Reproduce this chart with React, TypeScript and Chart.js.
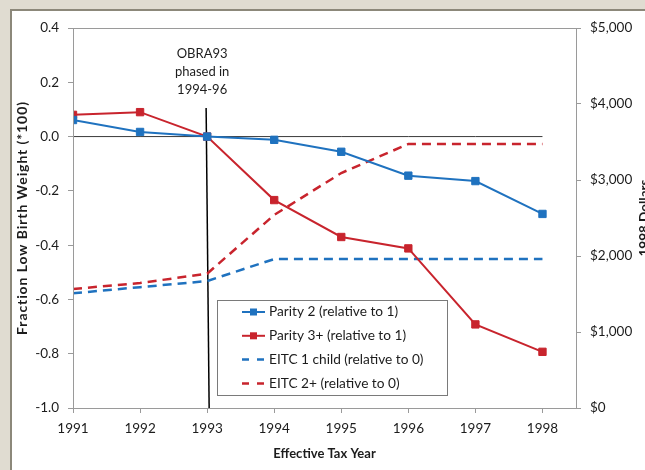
import React, { useEffect, useRef } from "react";
import { Chart, registerables } from "chart.js";

Chart.register(...registerables);

const years = [1991, 1992, 1993, 1994, 1995, 1996, 1997, 1998];
const parity2 = [0.061, 0.017, 0.0, -0.012, -0.056, -0.144, -0.164, -0.285];
const parity3 = [0.08, 0.09, 0.0, -0.234, -0.37, -0.412, -0.692, -0.793];
const eitc1 = [1510, 1590, 1670, 1960, 1960, 1960, 1960, 1960];
const eitc2 = [1566, 1645, 1767, 2540, 3092, 3474, 3474, 3474];
const seriesLabels = [
  "Parity 2 (relative to 1)",
  "Parity 3+ (relative to 1)",
  "EITC 1 child (relative to 0)",
  "EITC 2+ (relative to 0)",
];
const leftTicks = [-1.0, -0.8, -0.6, -0.4, -0.2, 0.0, 0.2, 0.4];
const rightTicks = [0, 1000, 2000, 3000, 4000, 5000];
const noteLines = ["OBRA93", "phased in", "1994-96"];
const policyYear = 1993;
const xTitle = "Effective Tax Year";
const yTitle = "Fraction Low Birth Weight (*100)";
const y1Title = "1998 Dollars";

const BLUE = "#1F72BF";
const RED = "#C8242D";
const FONT = "Lato, 'Open Sans', sans-serif";
const TXT = "#1c1c1c";
const AXIS = "#9a9a9a";

const pts = (vals: number[]) => years.map((x, i) => ({ x, y: vals[i] }));

export default function App() {
  const ref = useRef<HTMLCanvasElement | null>(null);
  useEffect(() => {
    const canvas = ref.current;
    if (!canvas) return;

    const decor = {
      id: "decor",
      beforeDraw(chart: any) {
        const c = chart.ctx;
        c.save();
        c.fillStyle = "#E0DCD1";
        c.fillRect(0, 0, chart.width, chart.height);
        c.fillStyle = "#8C887A";
        c.fillRect(10, 9, chart.width, chart.height);
        c.fillStyle = "#ffffff";
        c.fillRect(12, 11, chart.width, chart.height);
        c.restore();
      },
      afterDraw(chart: any) {
        const c = chart.ctx;
        const a = chart.chartArea;
        const xs = chart.scales.x;
        const ys = chart.scales.y;
        c.save();
        // plot box
        c.strokeStyle = AXIS;
        c.lineWidth = 1;
        c.strokeRect(a.left + 0.5, a.top + 0.5, a.right - a.left, a.bottom - a.top);
        // titles
        c.fillStyle = TXT;
        c.font = `bold 13px ${FONT}`;
        c.textAlign = "center";
        c.textBaseline = "middle";
        c.fillText(xTitle, (a.left + a.right) / 2, 454);
        c.save();
        c.translate(22, (a.top + a.bottom) / 2);
        c.rotate(-Math.PI / 2);
        c.font = `bold 14px ${FONT}`;
        (c as any).letterSpacing = "0.9px";
        c.fillText(yTitle, 0, 0);
        (c as any).letterSpacing = "0px";
        c.restore();
        c.save();
        c.translate(638, (a.top + a.bottom) / 2);
        c.rotate(-Math.PI / 2);
        c.textBaseline = "top";
        c.font = `bold 13.5px ${FONT}`;
        c.fillText(y1Title, 0, 0);
        c.restore();
        // note
        c.font = `13px ${FONT}`;
        const nx = xs.getPixelForValue(policyYear) - 5;
        noteLines.forEach((t, i) => {
          c.fillText(t, nx, ys.getPixelForValue(0.3) + i * 18 - 1);
        });
        // legend
        const lx = 217, ly = 300, lw = 230, lh = 95;
        c.fillStyle = "#fff";
        c.fillRect(lx, ly, lw, lh);
        c.strokeStyle = "#7a7a7a";
        c.lineWidth = 1;
        c.strokeRect(lx + 0.5, ly + 0.5, lw, lh);
        const ds = chart.data.datasets.filter((d: any) => d.inLegend);
        ds.forEach((d: any, i: number) => {
          const yy = 312 + i * 23.8;
          c.save();
          c.strokeStyle = d.borderColor;
          c.lineWidth = d.borderWidth;
          if (d.borderDash && d.borderDash.length) c.setLineDash([7, 8]);
          c.beginPath();
          c.moveTo(242, yy);
          c.lineTo(265, yy);
          c.stroke();
          c.restore();
          if (d.pointRadius > 0) {
            c.fillStyle = d.pointBackgroundColor;
            c.fillRect(250, yy - 3.5, 7, 7);
          }
          c.fillStyle = TXT;
          c.textAlign = "left";
          c.textBaseline = "middle";
          c.font = `13.7px ${FONT}`;
          c.fillText(d.label, 269, yy);
        });
        c.restore();
      },
    };

    const solid = (label: string, vals: number[], color: string) => ({
      label,
      data: pts(vals),
      borderColor: color,
      backgroundColor: color,
      pointBackgroundColor: color,
      pointBorderColor: color,
      borderWidth: 2,
      pointRadius: 5.2,
      pointStyle: "rect",
      pointBorderWidth: 1,
      yAxisID: "y",
      inLegend: true,
      order: 1,
    });
    const dashed = (label: string, vals: number[], color: string) => ({
      label,
      data: pts(vals),
      borderColor: color,
      backgroundColor: color,
      borderWidth: 2.5,
      borderDash: [9, 6],
      pointRadius: 0,
      yAxisID: "y1",
      inLegend: true,
      order: 2,
    });

    const tickFont = { family: FONT, size: 13.5 };

    const chart = new Chart(canvas, {
      type: "line",
      data: {
        datasets: [
          solid(seriesLabels[0], parity2, BLUE),
          solid(seriesLabels[1], parity3, RED),
          dashed(seriesLabels[2], eitc1, BLUE),
          dashed(seriesLabels[3], eitc2, RED),
          {
            label: "zero",
            data: pts(years.map(() => 0)),
            borderColor: "#3a3a3a",
            borderWidth: 1,
            pointRadius: 0,
            yAxisID: "y",
            order: 5,
          } as any,
          {
            label: "policy",
            data: [
              { x: policyYear - 0.015, y: 0.105 },
              { x: policyYear + 0.03, y: -1.0 },
            ],
            borderColor: "#000000",
            borderWidth: 1.5,
            pointRadius: 0,
            yAxisID: "y",
            order: 4,
          } as any,
        ] as any,
      },
      options: {
        animation: false,
        responsive: false,
        maintainAspectRatio: false,
        layout: { padding: { top: 28, left: 0, right: 0, bottom: 0 } },
        plugins: { legend: { display: false }, tooltip: { enabled: false } },
        scales: {
          x: {
            type: "linear",
            min: years[0],
            max: years[years.length - 1] + 0.5,
            afterBuildTicks: (ax: any) => {
              ax.ticks = years.map((v) => ({ value: v }));
            },
            afterFit: (ax: any) => {
              ax.height = 62;
            },
            grid: { drawOnChartArea: false, drawTicks: true, tickLength: 5, color: AXIS },
            border: { display: true, color: AXIS },
            ticks: {
              color: TXT,
              font: tickFont,
              padding: 8,
              maxRotation: 0,
              callback: (v: any) => String(v),
            },
          },
          y: {
            type: "linear",
            position: "left",
            min: leftTicks[0],
            max: leftTicks[leftTicks.length - 1],
            afterBuildTicks: (ax: any) => {
              ax.ticks = leftTicks.map((v) => ({ value: v }));
            },
            afterFit: (ax: any) => {
              ax.width = 73;
            },
            grid: { drawOnChartArea: false, drawTicks: true, tickLength: 5, color: AXIS },
            border: { display: true, color: AXIS },
            ticks: {
              color: TXT,
              font: tickFont,
              padding: 9,
              callback: (v: any) => (Math.abs(v) < 1e-9 ? "0.0" : Number(v).toFixed(1)),
            },
          },
          y1: {
            type: "linear",
            position: "right",
            min: rightTicks[0],
            max: rightTicks[rightTicks.length - 1],
            afterBuildTicks: (ax: any) => {
              ax.ticks = rightTicks.map((v) => ({ value: v }));
            },
            afterFit: (ax: any) => {
              ax.width = 69;
            },
            grid: { drawOnChartArea: false, drawTicks: true, tickLength: 5, color: AXIS },
            border: { display: true, color: AXIS },
            ticks: {
              color: TXT,
              font: tickFont,
              padding: 9,
              callback: (v: any) => "$" + Number(v).toLocaleString("en-US"),
            },
          },
        },
      } as any,
      plugins: [decor],
    });
    return () => chart.destroy();
  }, []);

  return (
    <div style={{ position: "fixed", left: 0, top: 0, width: 645, height: 470 }}>
      <canvas ref={ref} width={645} height={470} style={{ display: "block", width: 645, height: 470 }} />
    </div>
  );
}
